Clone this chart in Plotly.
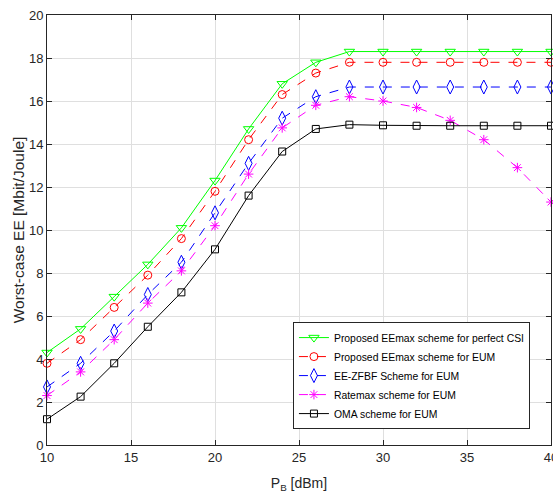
import plotly.graph_objects as go

pb = [10, 12, 14, 16, 18, 20, 22, 24, 26, 28, 30, 32, 34, 36, 38, 40]
ee_perfect = [4.3, 5.4, 6.9, 8.4, 10.1, 12.3, 14.7, 16.8, 17.8, 18.3, 18.3, 18.3, 18.3, 18.3, 18.3, 18.3]
ee_eum = [3.8, 4.9, 6.4, 7.9, 9.6, 11.8, 14.2, 16.3, 17.3, 17.8, 17.8, 17.8, 17.8, 17.8, 17.8, 17.8]
zfbf = [2.7, 3.8, 5.3, 7.0, 8.5, 10.8, 13.1, 15.2, 16.2, 16.65, 16.65, 16.65, 16.65, 16.65, 16.65, 16.65]
ratemax = [2.3, 3.4, 4.9, 6.6, 8.1, 10.2, 12.6, 14.75, 15.8, 16.2, 16.0, 15.7, 15.1, 14.2, 12.9, 11.3]
oma = [1.2, 2.25, 3.8, 5.5, 7.1, 9.1, 11.6, 13.65, 14.7, 14.9, 14.87, 14.85, 14.85, 14.85, 14.85, 14.85]

names = ["Proposed EEmax scheme for perfect CSI", "Proposed EEmax scheme for EUM",
         "EE-ZFBF Scheme for EUM", "Ratemax scheme for EUM", "OMA scheme for EUM"]
series = [ee_perfect, ee_eum, zfbf, ratemax, oma]
colors = ["#00FF00", "#FF0000", "#0000FF", "#FF00FF", "#000000"]
dashes = ["solid", "dash", "dash", "dash", "solid"]
symbols = ["triangle-down-open", "circle-open", "diamond-tall-open", "asterisk-open", "square-open"]
sizes = [9, 8, 10, 8, 7]

fig = go.Figure()
for n, s, c, d, sym, sz in zip(names, series, colors, dashes, symbols, sizes):
    fig.add_trace(go.Scatter(
        x=pb, y=s, name=n, mode="lines+markers",
        line=dict(color=c, dash=d, width=1),
        marker=dict(symbol=sym, size=sz, color=c, line=dict(color=c, width=1)),
        cliponaxis=False,
    ))

axis_common = dict(
    showgrid=True, gridcolor="#dfdfdf", gridwidth=1,
    showline=True, linecolor="#262626", linewidth=1, mirror="allticks",
    ticks="inside", ticklen=5, tickcolor="#262626",
    tickfont=dict(family="Liberation Sans, Arial", size=13, color="#262626"),
    zeroline=False, automargin=False, ticklabeloverflow="allow",
)

fig.update_layout(
    width=553, height=497,
    margin=dict(l=47, r=2, t=15, b=52),
    paper_bgcolor="white", plot_bgcolor="white",
    font=dict(family="Liberation Sans, Arial", color="#262626"),
    xaxis=dict(range=[10, 40], dtick=5,
               title=dict(text="P<sub>B</sub> [dBm]", font=dict(size=14, color="#262626"), standoff=14),
               **axis_common),
    yaxis=dict(range=[0, 20], dtick=2,
               title=dict(text="Worst-case EE [Mbit/Joule]", font=dict(size=15.5, color="#262626"), standoff=0),
               **axis_common),
    legend=dict(x=0.488, y=0.037, xanchor="left", yanchor="bottom",
                bgcolor="white", bordercolor="#262626", borderwidth=1,
                font=dict(size=10.4, color="#000000"),
                tracegroupgap=0, itemsizing="trace", itemwidth=30),
    showlegend=True,
)

fig.write_html("out.html", config={"displayModeBar": False},
               post_script="document.body.style.margin='0';document.body.style.overflow='hidden';")
